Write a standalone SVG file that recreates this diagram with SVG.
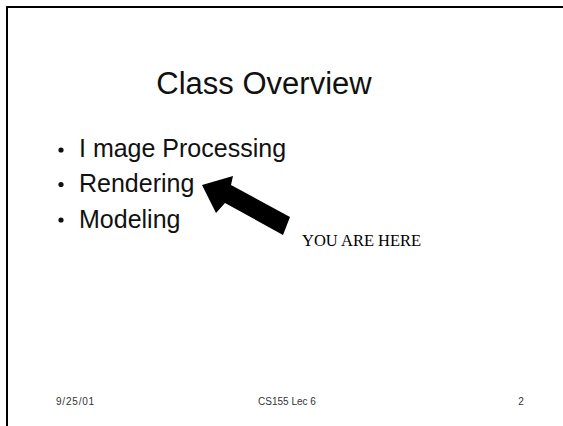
<svg xmlns="http://www.w3.org/2000/svg" width="563" height="426" viewBox="0 0 563 426">
<style>
.sans{font-family:"Liberation Sans",Arial,sans-serif;fill:#111}
.item{font-family:"Liberation Sans",Arial,sans-serif;font-size:25px;fill:#111}
.dot{fill:#111}
.foot{font-family:"Liberation Sans",Arial,sans-serif;font-size:10px;fill:#333}
</style>
<rect width="563" height="426" fill="#fff"/>
<g id="frame" stroke="#000" stroke-width="2" fill="none">
<line x1="7" y1="7" x2="563" y2="7"/>
<line x1="7" y1="6" x2="7" y2="426"/>
</g>
<g id="title"><text class="sans" x="264" y="94" font-size="31" text-anchor="middle">Class Overview</text></g>
<g id="bullets">
<circle class="dot" cx="61" cy="150" r="2.6"/>
<text class="item" x="79" y="157">I mage Processing</text>
<circle class="dot" cx="61" cy="184.5" r="2.6"/>
<text class="item" x="79" y="192">Rendering</text>
<circle class="dot" cx="61" cy="220" r="2.6"/>
<text class="item" x="79" y="227.5">Modeling</text>
</g>
<g id="connectors">
<polygon points="202,185 233,176 231,185 290,217 283,235 225,203 216,213" fill="#000"/>
</g>
<g id="label"><text x="302" y="246" font-family="'Liberation Serif','Times New Roman',serif" font-size="16.5" fill="#000">YOU ARE HERE</text></g>
<g id="footer">
<text class="foot" x="56" y="405" letter-spacing="0.8">9/25/01</text>
<text class="foot" x="287" y="405" text-anchor="middle">CS155 Lec 6</text>
<text class="foot" x="521" y="405" text-anchor="middle">2</text>
</g>
</svg>
